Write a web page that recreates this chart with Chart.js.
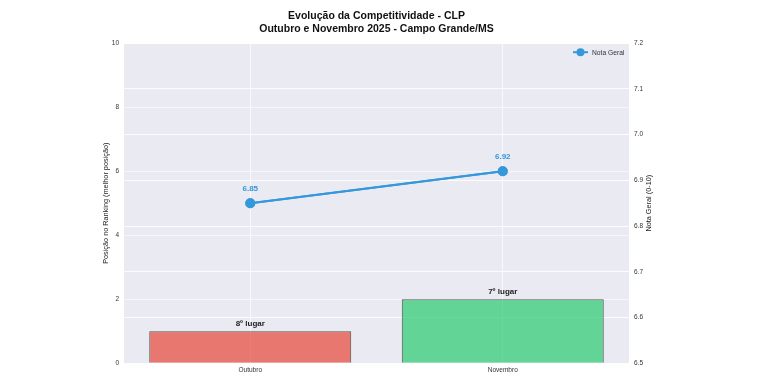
<!DOCTYPE html>
<html>
<head>
<meta charset="utf-8">
<script src="https://cdn.jsdelivr.net/npm/chart.js@4.4.1/dist/chart.umd.min.js"></script>
<style>
  html, body { margin: 0; padding: 0; background: #fff; }
  #wrap { width: 774px; height: 388px; }
</style>
</head>
<body>
<div id="wrap"><canvas id="c1" width="774" height="388"></canvas></div>
<script>
// data
var meses = ['Outubro', 'Novembro'];
var posicao = [1, 2];               // bar height (better position = taller)
var lugar = ['8º lugar', '7º lugar'];
var notaGeral = [6.85, 6.92];
var ticksEsq = [0, 2, 4, 6, 8, 10];
var ticksDir = [6.5, 6.6, 6.7, 6.8, 6.9, 7.0, 7.1, 7.2];
var tituloEsq = 'Posição no Ranking (melhor posição)';
var tituloDir = 'Nota Geral (0-10)';

var fonte = "'Liberation Sans', Arial, sans-serif";

// grey seaborn-like background + redraw line on top + labels + legend
var extras = {
  id: 'extras',
  beforeDraw: function(chart) {
    var a = chart.chartArea, ctx = chart.ctx;
    ctx.save();
    ctx.fillStyle = '#EAEAF2';
    ctx.fillRect(a.left, a.top, a.right - a.left, a.bottom - a.top);
    ctx.restore();
  },
  afterDraw: function(chart) {
    var ctx = chart.ctx, a = chart.chartArea;
    // line drawn again so it sits over the right-axis grid
    chart.getDatasetMeta(1).controller.draw();

    ctx.save();
    ctx.textAlign = 'center';
    ctx.textBaseline = 'bottom';
    // bar labels
    ctx.font = 'bold 8px ' + fonte;
    ctx.fillStyle = '#222';
    chart.getDatasetMeta(0).data.forEach(function(bar, i) {
      ctx.fillText(lugar[i], bar.x, bar.y - 3);
    });
    // point labels
    ctx.fillStyle = '#3498DB';
    chart.getDatasetMeta(1).data.forEach(function(pt, i) {
      ctx.fillText(notaGeral[i].toFixed(2), pt.x, pt.y - 10);
    });

    // axis titles, both read bottom to top
    var midY = (a.top + a.bottom) / 2;
    ctx.fillStyle = '#222';
    ctx.font = '7.3px ' + fonte;
    ctx.textBaseline = 'middle';
    ctx.save();
    ctx.translate(106, midY);
    ctx.rotate(-Math.PI / 2);
    ctx.fillText(tituloEsq, 0, 0);
    ctx.restore();
    ctx.save();
    ctx.translate(649, midY);
    ctx.rotate(-Math.PI / 2);
    ctx.fillText(tituloDir, 0, 0);
    ctx.restore();

    // legend, top right inside the plot
    var lx = a.right - 56, ly = a.top + 9;
    ctx.strokeStyle = '#3498DB';
    ctx.lineWidth = 2;
    ctx.beginPath();
    ctx.moveTo(lx, ly);
    ctx.lineTo(lx + 15, ly);
    ctx.stroke();
    ctx.fillStyle = '#3498DB';
    ctx.beginPath();
    ctx.arc(lx + 7.5, ly, 4, 0, Math.PI * 2);
    ctx.fill();
    ctx.fillStyle = '#333';
    ctx.font = '6.7px ' + fonte;
    ctx.textAlign = 'left';
    ctx.fillText(chart.data.datasets[1].label, lx + 19, ly + 0.5);
    ctx.restore();
  }
};

var ctx = document.getElementById('c1').getContext('2d');
var chart1 = new Chart(ctx, {
  data: {
    labels: meses,
    datasets: [{
      type: 'bar',
      label: 'Posição',
      data: posicao,
      yAxisID: 'y',
      backgroundColor: ['rgba(231,76,60,0.72)', 'rgba(46,204,113,0.72)'],
      borderColor: '#555',
      borderWidth: 1,
      barPercentage: 0.8,
      categoryPercentage: 1.0,
      order: 2
    }, {
      type: 'line',
      label: 'Nota Geral',
      data: notaGeral,
      yAxisID: 'y2',
      borderColor: '#3498DB',
      backgroundColor: '#3498DB',
      borderWidth: 2,
      pointRadius: 4,
      pointHoverRadius: 4,
      fill: false,
      order: 1
    }]
  },
  options: {
    responsive: false,
    animation: false,
    events: [],
    layout: { padding: { left: 0, right: 0, top: 0, bottom: 11 } },
    plugins: {
      legend: { display: false },
      tooltip: { enabled: false },
      title: {
        display: true,
        fullSize: false,
        text: ['Evolução da Competitividade - CLP', 'Outubro e Novembro 2025 - Campo Grande/MS'],
        font: { family: fonte, size: 10.5, weight: 'bold' },
        color: '#111',
        lineHeight: 1.15,
        padding: { top: 10, bottom: 8 }
      }
    },
    scales: {
      x: {
        offset: true,
        z: 1,
        grid: { color: 'rgba(255,255,255,0.7)', lineWidth: 1, drawTicks: false, offset: false },
        border: { display: false },
        ticks: { color: '#333', font: { family: fonte, size: 6.5 }, padding: 3 }
      },
      y: {
        position: 'left',
        min: 0,
        max: 10,
        afterBuildTicks: function(s) { s.ticks = ticksEsq.map(function(v) { return { value: v }; }); },
        afterFit: function(s) { s.width = 124; },
        grid: { color: 'rgba(255,255,255,0.55)', drawTicks: false },
        border: { display: false },
        ticks: { color: '#333', font: { family: fonte, size: 6.5 }, padding: 5 }
      },
      y2: {
        position: 'right',
        min: 6.5,
        max: 7.2,
        z: 1,
        afterBuildTicks: function(s) { s.ticks = ticksDir.map(function(v) { return { value: v }; }); },
        afterFit: function(s) { s.width = 145; },
        grid: { color: 'rgba(255,255,255,0.85)', drawTicks: false },
        border: { display: false },
        ticks: { color: '#333', font: { family: fonte, size: 6.5 }, padding: 5,
          callback: function(v) { return v.toFixed(1); } }
      }
    }
  },
  plugins: [extras]
});
</script>
</body>
</html>
